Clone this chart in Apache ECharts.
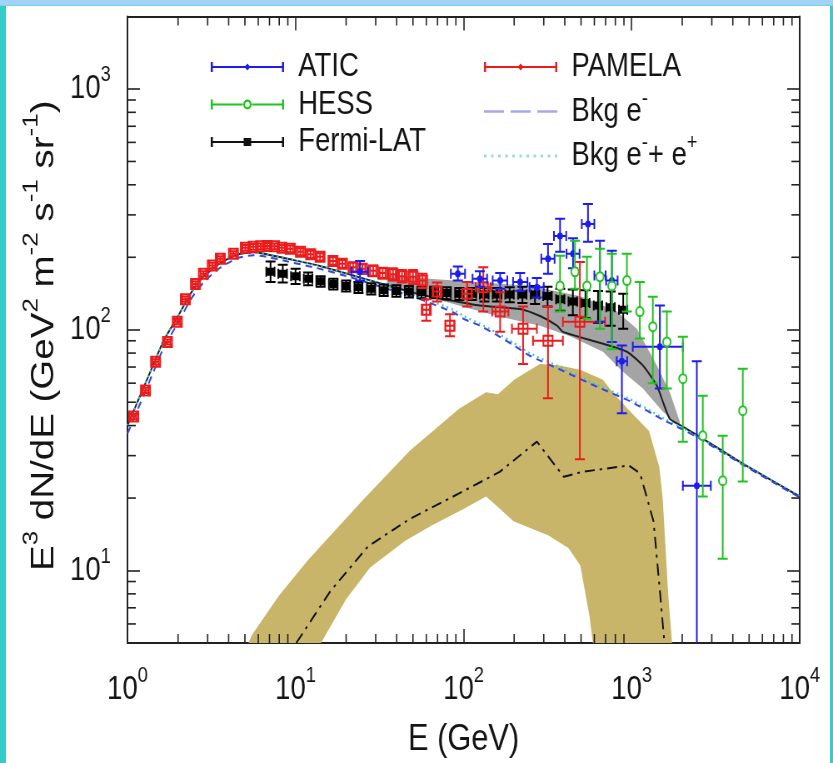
<!DOCTYPE html>
<html>
<head>
<meta charset="utf-8">
<title>Electron spectrum</title>
<script src="https://cdn.jsdelivr.net/npm/echarts@6/dist/echarts.min.js"></script>
<style>
  html, body { margin: 0; padding: 0; background: #fff; overflow: hidden; }
  #page { position: relative; width: 833px; height: 763px; overflow: hidden; background: #fff; }
  /* the plot is laid out 1000px wide and squeezed to the page width */
  #chart { position: absolute; left: 0; top: 0; width: 1000px; height: 763px;
           transform: scaleX(0.833); transform-origin: 0 0; }
  .edge { position: absolute; }
</style>
</head>
<body>
<div id="page">
  <div id="chart"></div>
  <div class="edge" style="left:0;top:0;width:6px;height:763px;background:#36cccc"></div>
  <div class="edge" style="right:0;top:0;width:3px;height:763px;background:#36cccc"></div>
  <div class="edge" style="left:0;top:0;width:833px;height:5px;background:#a2d2f6"></div>
  <div class="edge" style="left:0;top:5px;width:833px;height:1px;background:#6fd6e0"></div>
</div>
<script>
// ---- axis ranges -------------------------------------------------------
const X_MIN = 1, X_MAX = 1e4;
const Y_MIN = 5, Y_MAX = 2000;
const X_MINOR_TICKS = [2,3,4,5,6,7,8,9, 20,30,40,50,60,70,80,90,
                       200,300,400,500,600,700,800,900, 2000,3000,4000,5000,6000,7000,8000,9000];
const Y_MINOR_TICKS = [6,7,8,9, 20,30,40,50,60,70,80,90, 200,300,400,500,600,700,800,900];

// ---- measurements: [E (GeV), flux, flux low, flux high, E low, E high] ----
const atic = [
  [24.2,174,160,193,21.5,27], [92.5,171,160,183,84,102], [125,163,151,175,113,138],
  [165,160,148,172,149,182], [217,158,145,172,197,240], [273,150,136,164,247,300],
  [318,197,171,227,290,348], [375,245,211,289,345,408], [448,207,180,240,410,490],
  [550,275,232,333,505,600], [648,168,108,234,600,700], [763,160,89,213,705,825],
  [875,74,45,86,815,940], [1472,85,57,126,1016,2018], [2443,22.5,3,74,2018,2960]
];
const hess = [
  [375,152,119,203], [460,174,148,234], [542,152,111,201], [648,166,101,217],
  [763,152,83,207], [937,160,119,207], [1119,119,92,158], [1337,103,60,137],
  [1620,89,57,119], [2018,62.6,34.3,93.5], [2651,36.3,20.3,53.2],
  [3483,23.6,11.2,36.3], [4585,46.1,23.4,68.9]
];
const fermi = [
  [7.1,174,158,192,6.7,7.5], [8.4,171,157,186,7.9,8.9], [10,167,155,179,9.4,10.6],
  [11.9,163,153,173,11.2,12.6], [14.1,159,151,167,13.3,14.9], [16.8,155,147,163,15.8,17.8],
  [20,152,144,160,18.9,21.1], [23.7,150,142,158,22.4,25], [28.2,148,140,156,26.6,29.8],
  [33.5,146,138,154,31.6,35.4], [39.8,145,137,153,37.6,42], [47.3,144,136,152,44.7,50],
  [56.2,143,135,151,53,59.5], [66.8,143,135,151,63,70.6], [79.4,142,134,150,75,84],
  [94.4,141,133,149,89,100], [112,141,133,149,106,119], [133,140,131,149,125,141],
  [158,140,131,149,149,168], [188,140,130,150,177,199], [224,140,129,151,211,237],
  [266,140,128,152,251,282], [316,138,125,151,298,335], [376,134,120,148,355,398],
  [447,131,115,147,421,474], [531,129,112,146,500,562], [631,126,107,145,595,668],
  [750,124,104,144,707,794], [891,121,101,141,840,943]
];
const pamela = [
  [1.09,43.6,42.5,44.7,1.05,1.13], [1.28,56,54.6,57.4,1.23,1.33], [1.47,73.6,71.8,75.4,1.41,1.53],
  [1.73,89,86.8,91.2,1.66,1.8], [1.98,108,105.3,110.7,1.9,2.06], [2.21,134,130.7,137.4,2.12,2.3],
  [2.54,155,151,159,2.44,2.64], [2.83,171,167,175,2.72,2.94], [3.2,185,180,190,3.07,3.33],
  [3.57,197,192,202,3.43,3.71], [4.27,207,202,212,4.1,4.44], [5.03,219,213,225,4.83,5.23],
  [5.6,221,215,227,5.38,5.82], [6.2,222,216,228,5.95,6.45], [6.8,223,217,229,6.53,7.07],
  [7.5,222,216,228,7.2,7.8], [8.3,219,213,225,7.97,8.63], [9.3,217,210,224,8.93,9.67],
  [10.7,211,204,218,10.3,11.1], [12.3,206,199,213,11.8,12.8], [14,201,194,208,13.4,14.6],
  [16.7,193,186,200,16,17.4], [19,188,181,195,18.2,19.8], [22,182,174,190,21.1,22.9],
  [25,179,171,187,24,26], [29,176,167,185,27.8,30.2], [33,172,163,181,31.7,34.3],
  [38,170,160,180,36.5,39.5], [43,167,157,177,41.3,44.7], [50,166,155,177,48,52],
  [57,160,149,171,54.7,59.3], [60,121,109,134,57,63], [69.6,144,131,157,66,73],
  [83,104,94,116,78,88], [105,141,125,158,98,112], [131,150,119,182,118,145],
  [165,119,98,143,148,185], [226,101,72,125,194,273], [318,90,52,125,259,390],
  [492,108,29,191,390,695]
];

// ---- model curves: [E (GeV), flux] ------------------------------------
const bkgElectron = [
  [1,37],[1.2,50],[1.43,67],[1.64,84],[2,107],[2.4,135],[2.85,158],[3.6,182],[4.5,198],
  [5.6,204],[6.5,202],[9,192],[14,179],[22,164],[35,148],[55,134],[87,118],[100,111],
  [125,104],[158,95],[200,86],[248,78],[390,67.5],[621,58],[977,50.5],[1535,42.3],
  [2018,38.5],[2651,34.7],[4585,27.5],[10000,20.1]
];
const bkgTotal = [
  [1,40],[1.2,54],[1.43,72],[1.64,90],[2,114],[2.4,143],[2.85,167],[3.6,190],[4.5,205],
  [5.6,210],[6.5,207],[9,197],[14,184],[22,168],[35,152],[55,137],[87,121],[100,114],
  [125,106],[158,97],[200,88],[248,80],[390,69],[621,59],[977,51.5],[1535,43],
  [2018,39],[2651,35],[4585,27.8],[10000,20.3]
];
const totalModel = [
  [1,40],[1.2,54],[1.43,72],[1.64,90],[2,114],[2.4,143],[2.85,167],[3.6,190],[4.5,205],
  [5.6,210],[6.5,207],[9,197],[14,184],[22,168],[35,153],[55,140],[80,133],[125,126],
  [217,122],[285,114],[360,104],[390,98],[621,89],[937,81],[1167,71],[1413,58.6],
  [1535,50.2],[1687,42.7],[2018,39.6],[2651,35.3],[4585,27.8],[10000,20.3]
];
const dmMedian = [
  [10.1,5],[16.1,8.2],[27,12.6],[48,16.4],[94,20.9],[164,25.7],[273,34.3],[395,24.5],
  [507,25.7],[964,27.3],[1122,25.3],[1350,16],[1480,7.9],[1567,5]
];
// envelope of the dark-matter realisations (upper edge, lower edge)
const dmUpper = [
  [5.0,4.6],[5.5,5.4],[8,7.9],[11.8,11],[24.6,19.3],[48,31.5],[94,47],[136,55],[160,54],
  [200,62],[284,72],[374,71],[500,68],[675,62],[770,55],[975,46],[1270,38],[1460,27],
  [1530,20],[1650,8],[1760,4.5]
];
const dmLower = [
  [13,4.5],[20,7.6],[27.8,10.3],[45,13.3],[65,15.4],[100,18],[136,20.3],[165,18],[198,16],
  [318,14],[420,12.4],[495,10.5],[560,6.5],[600,4.5]
];
// envelope of background + dark matter
const totalUpper = [
  [35,170],[63,163],[130,157],[248,152],[492,138],[817,119],[1075,101],[1413,71],[1687,55],[1936,41.5]
];
const totalLower = [
  [35,152],[63,136],[158,114],[285,104],[430,94],[675,81],[887,67],[1167,57],[1535,45.7],[1936,40]
];

// ---- styling -----------------------------------------------------------
const FONT = 'Liberation Sans, Arial, Helvetica, sans-serif';
const INK = '#141414';
const C_ATIC = '#1c1cf0', C_HESS = '#1fc41f', C_FERMI = '#000000', C_PAMELA = '#ec1c1c';
const C_BKG_E = '#3a44e4', C_BKG_EE = '#35c6cc';

function powerLabel(v) {
  const e = Math.round(Math.log10(v));
  if (Math.abs(Math.pow(10, e) - v) > 1e-6 * v) return '';
  return '{b|10}{e|' + e + '}';
}
// exponents get a short box so they sit at the top of the line
const tickRich = {
  b: { fontSize: 33, lineHeight: 36, color: INK, fontFamily: FONT },
  e: { fontSize: 22, height: 8, verticalAlign: 'top', color: INK, fontFamily: FONT }
};

const markers = {
  dot: (c, col) => ({ type: 'circle', shape: { cx: c[0], cy: c[1], r: 3.5 }, style: { fill: col } }),
  ring: (c, col) => ({ type: 'circle', shape: { cx: c[0], cy: c[1], r: 4.5 },
                       style: { fill: '#fff', stroke: col, lineWidth: 2 } }),
  square: (c, col) => ({ type: 'rect', shape: { x: c[0] - 4.5, y: c[1] - 4, width: 9, height: 8 },
                         style: { fill: col } }),
  openSquare: (c, col) => ({ type: 'rect', shape: { x: c[0] - 5.5, y: c[1] - 5, width: 11, height: 10 },
                             style: { fill: 'none', stroke: col, lineWidth: 2 } })
};

function errorBars(marker) {
  return function (params, api) {
    const E = api.value(0), y = api.value(1), lo = api.value(2), hi = api.value(3);
    const xlo = api.value(4), xhi = api.value(5);
    const col = api.visual('color');
    const st = { stroke: col, lineWidth: 2 };
    const cap = 6;
    const c = api.coord([E, y]);
    const pLo = api.coord([E, lo]), pHi = api.coord([E, hi]);
    const kids = [
      { type: 'line', shape: { x1: c[0], y1: pLo[1], x2: c[0], y2: pHi[1] }, style: st },
      { type: 'line', shape: { x1: c[0] - cap, y1: pLo[1], x2: c[0] + cap, y2: pLo[1] }, style: st },
      { type: 'line', shape: { x1: c[0] - cap, y1: pHi[1], x2: c[0] + cap, y2: pHi[1] }, style: st }
    ];
    if (xlo > 0 && xhi > 0) {
      const a = api.coord([xlo, y]), b = api.coord([xhi, y]);
      kids.push({ type: 'line', shape: { x1: a[0], y1: c[1], x2: b[0], y2: c[1] }, style: st });
      kids.push({ type: 'line', shape: { x1: a[0], y1: c[1] - 5, x2: a[0], y2: c[1] + 5 }, style: st });
      kids.push({ type: 'line', shape: { x1: b[0], y1: c[1] - 5, x2: b[0], y2: c[1] + 5 }, style: st });
    }
    kids.push(marker(c, col));
    return { type: 'group', children: kids };
  };
}

function band(upper, lower, fill) {
  return function (params, api) {
    if (params.dataIndex !== 0) return null;
    const pts = upper.map(p => api.coord(p))
      .concat(lower.slice().reverse().map(p => api.coord(p)));
    return { type: 'polygon', shape: { points: pts }, style: { fill: fill } };
  };
}

function minorX(params, api) {
  const v = api.value(0);
  const b = api.coord([v, Y_MIN]), t = api.coord([v, Y_MAX]);
  const st = { stroke: '#222', lineWidth: 1.6 };
  return { type: 'group', children: [
    { type: 'line', shape: { x1: b[0], y1: b[1], x2: b[0], y2: b[1] - 9 }, style: st },
    { type: 'line', shape: { x1: t[0], y1: t[1], x2: t[0], y2: t[1] + 9 }, style: st }
  ] };
}
function minorY(params, api) {
  const v = api.value(1);
  const l = api.coord([X_MIN, v]), r = api.coord([X_MAX, v]);
  const st = { stroke: '#222', lineWidth: 1.6 };
  return { type: 'group', children: [
    { type: 'line', shape: { x1: l[0], y1: l[1], x2: l[0] + 10, y2: l[1] }, style: st },
    { type: 'line', shape: { x1: r[0], y1: r[1], x2: r[0] - 10, y2: r[1] }, style: st }
  ] };
}

// legend swatches (88 x 10 boxes)
const CAPS = 'M0,0h2.5v10h-2.5z M85.5,0h2.5v10h-2.5z ';
const ICON_ATIC = 'path://' + CAPS + 'M0,4h88v2h-88z M44,1.5L47.5,5L44,8.5L40.5,5z';
const ICON_PAMELA = ICON_ATIC;
const ICON_HESS = 'path://' + CAPS + 'M0,4h38.5v2h-38.5z M49.5,4h38.5v2h-38.5z ' +
  'M39,5a5,5 0 1,1 10,0a5,5 0 1,1 -10,0z M41.2,5a2.8,2.8 0 1,0 5.6,0a2.8,2.8 0 1,0 -5.6,0z';
const ICON_FERMI = 'path://' + CAPS + 'M0,4h88v2h-88z M39.5,1h9v8h-9z';
const ICON_DASH = 'path://M0,0h24v2.5h-24z M32,0h24v2.5h-24z M64,0h24v2.5h-24z';
let dots = '';
for (let x = 0; x <= 85; x += 8.5) dots += 'M' + x + ',0h3v3h-3z ';
const ICON_DOT = 'path://' + dots;

const legendText = {
  fontSize: 33, lineHeight: 34, color: INK, fontFamily: FONT, padding: [0, 0, 0, 12],
  rich: {
    t: { fontSize: 33, lineHeight: 34, color: INK, fontFamily: FONT },
    s: { fontSize: 22, height: 8, verticalAlign: 'top', color: INK, fontFamily: FONT }
  }
};
function legendFormat(name) {
  if (name === 'Bkg e⁻') return '{t|Bkg e}{s|-}';
  if (name === 'Bkg e⁻+e⁺') return '{t|Bkg e}{s|-}{t|+ e}{s|+}';
  return name;
}

const axisCommon = {
  type: 'log', logBase: 10,
  axisLine: { show: true, onZero: false, lineStyle: { color: '#222', width: 2 } },
  axisTick: { show: true, inside: true, lineStyle: { color: '#222', width: 1.6 } },
  splitLine: { show: false },
  minorTick: { show: false }
};

const chart = echarts.init(document.getElementById('chart'), null, { renderer: 'canvas' });
chart.setOption({
  animation: false,
  backgroundColor: 'transparent',
  textStyle: { fontFamily: FONT, color: INK },
  grid: { left: 153, right: 40, top: 16.5, bottom: 119.7, containLabel: false },
  legend: [
    { left: 248, top: 45, orient: 'vertical', itemWidth: 88, itemHeight: 12, itemGap: 3.5,
      selectedMode: false, symbolKeepAspect: true, formatter: legendFormat, textStyle: legendText,
      itemStyle: { borderWidth: 0 },
      data: [
        { name: 'ATIC', icon: ICON_ATIC, itemStyle: { color: C_ATIC, borderWidth: 0 } },
        { name: 'HESS', icon: ICON_HESS, itemStyle: { color: C_HESS, borderWidth: 0 } },
        { name: 'Fermi-LAT', icon: ICON_FERMI, itemStyle: { color: '#111', borderWidth: 0 } }
      ] },
    { left: 576, top: 45, orient: 'vertical', itemWidth: 88, itemHeight: 12, itemGap: 3.5,
      selectedMode: false, symbolKeepAspect: true, formatter: legendFormat, textStyle: legendText,
      itemStyle: { borderWidth: 0 },
      data: [
        { name: 'PAMELA', icon: ICON_PAMELA, itemStyle: { color: C_PAMELA, borderWidth: 0 } },
        { name: 'Bkg e⁻', icon: ICON_DASH, itemStyle: { color: '#a6a8ee', borderWidth: 0 } },
        { name: 'Bkg e⁻+e⁺', icon: ICON_DOT, itemStyle: { color: '#96dcdc', borderWidth: 0 } }
      ] }
  ],
  xAxis: [
    Object.assign({}, axisCommon, {
      position: 'bottom', min: X_MIN, max: X_MAX,
      axisTick: Object.assign({}, axisCommon.axisTick, { length: 14 }),
      axisLabel: { formatter: powerLabel, margin: 29, rich: tickRich },
      name: 'E (GeV)', nameLocation: 'middle', nameGap: 78,
      nameTextStyle: { fontSize: 37, color: INK, fontFamily: FONT }
    }),
    Object.assign({}, axisCommon, {
      position: 'top', min: X_MIN, max: X_MAX,
      axisTick: Object.assign({}, axisCommon.axisTick, { length: 14 }),
      axisLabel: { show: false }
    })
  ],
  yAxis: [
    Object.assign({}, axisCommon, {
      position: 'left', min: Y_MIN, max: Y_MAX,
      axisTick: Object.assign({}, axisCommon.axisTick, { length: 15 }),
      axisLabel: { formatter: powerLabel, margin: 20, rich: tickRich },
      name: '{t|E}{s|3}{t| dN/dE (GeV}{s|2}{t| m}{s|-2}{t| s}{s|-1}{t| sr}{s|-1}{t|)}',
      nameLocation: 'middle', nameRotate: 90, nameGap: 72,
      nameTextStyle: {
        padding: [0, 12, 0, 0],
        rich: {
          t: { fontSize: 38.5, lineHeight: 42, color: INK, fontFamily: FONT },
          s: { fontSize: 26, height: 10, verticalAlign: 'top', color: INK, fontFamily: FONT }
        }
      }
    }),
    Object.assign({}, axisCommon, {
      position: 'right', min: Y_MIN, max: Y_MAX,
      axisTick: Object.assign({}, axisCommon.axisTick, { length: 15 }),
      axisLabel: { show: false }
    })
  ],
  series: [
    { type: 'custom', name: 'DM realisations', silent: true, clip: true, z: 1,
      renderItem: band(dmUpper, dmLower, '#c9b56a'), data: [dmUpper[0]] },
    { type: 'custom', name: 'total band', silent: true, clip: true, z: 2,
      renderItem: band(totalUpper, totalLower, '#a4a4a4'), data: [totalUpper[0]] },
    { type: 'line', name: 'DM median', data: dmMedian, showSymbol: false, silent: true, z: 3,
      color: '#111', lineStyle: { color: '#111', width: 2, type: [12, 6, 3, 6] } },
    { type: 'line', name: 'total', data: totalModel, showSymbol: false, silent: true, z: 3, smooth: 0.2,
      color: '#222', lineStyle: { color: '#222', width: 2 } },
    { type: 'line', name: 'Bkg e⁻+e⁺', data: bkgTotal, showSymbol: false, silent: true, z: 4, smooth: 0.2,
      color: C_BKG_EE, itemStyle: { color: C_BKG_EE },
      lineStyle: { color: C_BKG_EE, width: 2.2, type: [2, 4] } },
    { type: 'line', name: 'Bkg e⁻', data: bkgElectron, showSymbol: false, silent: true, z: 4, smooth: 0.2,
      color: C_BKG_E, itemStyle: { color: C_BKG_E },
      lineStyle: { color: C_BKG_E, width: 2, type: [8, 6] } },
    { type: 'custom', name: 'Fermi-LAT', data: fermi, clip: true, z: 5,
      color: C_FERMI, itemStyle: { color: C_FERMI }, encode: { x: 0, y: 1 },
      renderItem: errorBars(markers.square) },
    { type: 'custom', name: 'PAMELA', data: pamela, clip: true, z: 6,
      color: C_PAMELA, itemStyle: { color: C_PAMELA }, encode: { x: 0, y: 1 },
      renderItem: errorBars(markers.openSquare) },
    { type: 'custom', name: 'ATIC', data: atic, clip: true, z: 7,
      color: C_ATIC, itemStyle: { color: C_ATIC }, encode: { x: 0, y: 1 },
      renderItem: errorBars(markers.dot) },
    { type: 'custom', name: 'HESS', data: hess, clip: true, z: 8,
      color: C_HESS, itemStyle: { color: C_HESS }, encode: { x: 0, y: 1 },
      renderItem: errorBars(markers.ring) },
    { type: 'custom', name: 'minor x ticks', silent: true, clip: false, z: 10,
      data: X_MINOR_TICKS.map(v => [v, Y_MIN]), renderItem: minorX },
    { type: 'custom', name: 'minor y ticks', silent: true, clip: false, z: 10,
      data: Y_MINOR_TICKS.map(v => [X_MIN, v]), renderItem: minorY }
  ]
});
</script>
</body>
</html>
